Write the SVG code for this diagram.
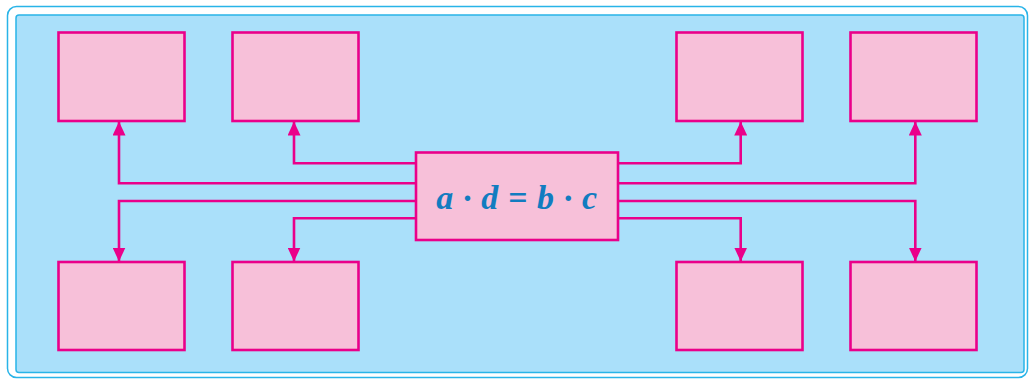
<svg xmlns="http://www.w3.org/2000/svg" width="1030" height="379" viewBox="0 0 1030 379">
<style>
.box{fill:#f7c0d9;stroke:#ea008a;stroke-width:2.6}
.ln{fill:none;stroke:#ea008a;stroke-width:2.6}
.t{font-family:"Liberation Serif",serif;font-weight:bold;font-style:italic;font-size:34px;fill:#127cc0}
</style>
<defs>
<marker id="ah" viewBox="0 0 14 13" refX="14" refY="6.5" markerWidth="14" markerHeight="13" markerUnits="userSpaceOnUse" orient="auto">
<path d="M0,0 L14,6.5 L0,13 Z" fill="#ea008a"/>
</marker>
</defs>
<rect x="7.5" y="6.5" width="1020" height="371" rx="9" fill="#ffffff" stroke="#29b4e8" stroke-width="1.5"/>
<rect x="16" y="15" width="1008" height="357.5" rx="3" fill="#aae0fa" stroke="#29b4e8" stroke-width="1.5"/>
<g id="connectors">
<path class="ln" d="M416,183.3 H119 V121.5" marker-end="url(#ah)"/>
<path class="ln" d="M416,163.3 H294 V121.5" marker-end="url(#ah)"/>
<path class="ln" d="M618,163.3 H740.7 V121.5" marker-end="url(#ah)"/>
<path class="ln" d="M618,183.3 H915.3 V121.5" marker-end="url(#ah)"/>
<path class="ln" d="M416,201 H119 V261.5" marker-end="url(#ah)"/>
<path class="ln" d="M416,218.3 H294 V261.5" marker-end="url(#ah)"/>
<path class="ln" d="M618,218.3 H740.7 V261.5" marker-end="url(#ah)"/>
<path class="ln" d="M618,201 H915.3 V261.5" marker-end="url(#ah)"/>
</g>
<g id="n1"><rect class="box" x="58.5" y="32.5" width="126" height="88.5"/></g>
<g id="n2"><rect class="box" x="232.5" y="32.5" width="126" height="88.5"/></g>
<g id="n3"><rect class="box" x="676.5" y="32.5" width="126" height="88.5"/></g>
<g id="n4"><rect class="box" x="850.5" y="32.5" width="126" height="88.5"/></g>
<g id="n5"><rect class="box" x="58.5" y="262" width="126" height="88"/></g>
<g id="n6"><rect class="box" x="232.5" y="262" width="126" height="88"/></g>
<g id="n7"><rect class="box" x="676.5" y="262" width="126" height="88"/></g>
<g id="n8"><rect class="box" x="850.5" y="262" width="126" height="88"/></g>
<g id="center"><rect class="box" x="416" y="152.5" width="202" height="87.5"/>
<text class="t" x="517" y="209" text-anchor="middle" letter-spacing="0.6">a · d = b · c</text></g>
</svg>
